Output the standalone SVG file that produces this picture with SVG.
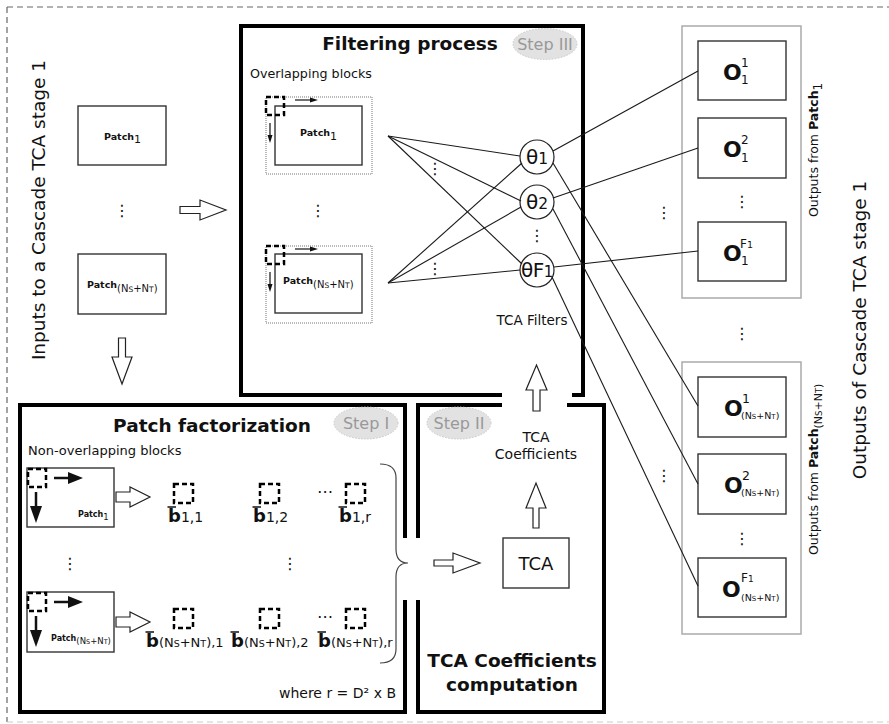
<svg xmlns="http://www.w3.org/2000/svg" width="889" height="724" viewBox="0 0 889 724">
<style>
text{font-family:"DejaVu Sans","Liberation Sans",sans-serif;fill:#111}
.b{font-weight:bold}
.box{fill:#fff;stroke:#333;stroke-width:1.4}
.frame{fill:none;stroke:#000;stroke-width:4}
.dotted{fill:none;stroke:#777;stroke-width:1;stroke-dasharray:1 1}
.dsq{fill:none;stroke:#000;stroke-width:2.5;stroke-dasharray:5 3}
.thin{stroke:#111;stroke-width:1.2;fill:none}
.head{fill:#111;stroke:none}
.hollow{fill:#fff;stroke:#222;stroke-width:1.2}
.grp{fill:none;stroke:#aaa;stroke-width:1.5}
.conn{stroke:#1a1a1a;stroke-width:1.1;fill:none}
.step{fill:#e2e2e2;stroke:#c8c8c8;stroke-width:1;stroke-dasharray:1.5 1.5}
.steptxt{fill:#999;font-size:16px}
.dots{font-size:16px;text-anchor:middle}
.circ{fill:#fff;stroke:#222;stroke-width:1.2}
</style>

<!-- outer dashed border -->
<g id="border">
<line x1="7" y1="7" x2="889" y2="7" stroke="#666" stroke-width="1.2" stroke-dasharray="6 4"/>
<line x1="7" y1="7" x2="7" y2="722" stroke="#666" stroke-width="1.2" stroke-dasharray="6 4"/>
<line x1="7" y1="722" x2="889" y2="722" stroke="#ccc" stroke-width="1.2" stroke-dasharray="6 4"/>
</g>

<!-- side labels -->
<text transform="translate(45,210) rotate(-90)" text-anchor="middle" font-size="18.5">Inputs to a Cascade TCA stage 1</text>
<text transform="translate(866,330) rotate(-90)" text-anchor="middle" font-size="18.5">Outputs of Cascade TCA stage 1</text>

<!-- inputs -->
<g id="input-patch1">
<rect x="78" y="106" width="88" height="59" class="box"/>
<text x="104" y="140" font-size="9.5" class="b">Patch<tspan font-weight="normal" font-size="11" dy="3">1</tspan></text>
</g>
<text x="122" y="216" class="dots">⋮</text>
<g id="input-patchN">
<rect x="78" y="254" width="88" height="60" class="box"/>
<text x="87" y="288" font-size="9.5" class="b">Patch<tspan font-weight="normal" font-size="10" dy="4">(N<tspan font-size="7.5">S</tspan>+N<tspan font-size="7.5">T</tspan>)</tspan></text>
</g>

<!-- Filtering process -->
<g id="filtering">
<path d="M502 395 H241 V26 H583 V395 H572" class="frame"/>
<text x="410" y="50" text-anchor="middle" font-size="18.5" class="b">Filtering process</text>
<ellipse cx="545" cy="44" rx="32" ry="15.5" class="step"/>
<text x="545" y="50" text-anchor="middle" class="steptxt">Step III</text>
<text x="250" y="78" font-size="12.7">Overlapping blocks</text>
</g>
<g id="filter-patch1">
<rect x="266" y="97" width="106" height="77" class="dotted"/>
<rect x="275" y="106" width="87" height="59" class="box"/>
<rect x="266" y="97" width="18" height="18" class="dsq"/>
<line x1="295" y1="100" x2="312" y2="100" class="thin"/><polygon points="318,100 310,97.5 310,102.5" class="head"/>
<line x1="270" y1="123" x2="270" y2="137" class="thin"/><polygon points="270,143 267.5,135 272.5,135" class="head"/>
<text x="300" y="136" font-size="9.5" class="b">Patch<tspan font-weight="normal" font-size="11" dy="4">1</tspan></text>
</g>
<text x="318" y="216" class="dots">⋮</text>
<g id="filter-patchN">
<rect x="266" y="246" width="106" height="77" class="dotted"/>
<rect x="275" y="254" width="87" height="59" class="box"/>
<rect x="266" y="246" width="18" height="18" class="dsq"/>
<line x1="295" y1="249" x2="312" y2="249" class="thin"/><polygon points="318,249 310,246.5 310,251.5" class="head"/>
<line x1="270" y1="272" x2="270" y2="286" class="thin"/><polygon points="270,292 267.5,284 272.5,284" class="head"/>
<text x="283" y="284" font-size="9.5" class="b">Patch<tspan font-weight="normal" font-size="10" dy="4">(N<tspan font-size="7.5">S</tspan>+N<tspan font-size="7.5">T</tspan>)</tspan></text>
</g>

<g id="theta1">
<circle cx="537" cy="157" r="17" class="circ"/>
<text x="537" y="164" text-anchor="middle" font-size="20">θ<tspan font-size="15.5">1</tspan></text>
</g>
<g id="theta2">
<circle cx="537" cy="202" r="17" class="circ"/>
<text x="537" y="209" text-anchor="middle" font-size="20">θ<tspan font-size="15.5">2</tspan></text>
</g>
<text x="537" y="241" class="dots">⋮</text>
<g id="thetaF1">
<circle cx="537" cy="270" r="17" class="circ"/>
<text x="537" y="277" text-anchor="middle" font-size="20" letter-spacing="-0.5">θF<tspan font-size="15">1</tspan></text>
</g>
<text x="532" y="325" text-anchor="middle" font-size="13.5">TCA Filters</text>
<text x="435" y="174" class="dots">⋮</text>
<text x="435" y="274" class="dots">⋮</text>

<!-- Patch factorization -->
<g id="factorization">
<path d="M405 538 V405 H20 V712 H405 V600" class="frame"/>
<text x="212" y="432" text-anchor="middle" font-size="18.5" class="b">Patch factorization</text>
<ellipse cx="366" cy="423" rx="32" ry="16" class="step"/>
<text x="366" y="429" text-anchor="middle" class="steptxt">Step I</text>
<text x="28" y="455" font-size="13">Non-overlapping blocks</text>
<text x="396" y="698" text-anchor="end" font-size="14">where r = D² x B</text>
<path d="M380 464 Q396 464 396 478 V549 Q396 563 408 563 Q396 563 396 577 V649 Q396 663 380 663" fill="none" stroke="#444" stroke-width="1.2"/>
</g>
<g id="fact-patch1">
<rect x="27" y="468" width="87" height="59" class="box"/>
<rect x="28" y="469" width="18" height="18" class="dsq"/>
<line x1="54" y1="478" x2="70" y2="478" stroke="#111" stroke-width="2.5"/><polygon points="83,478 68,472 68,484" class="head"/>
<line x1="36" y1="492" x2="36" y2="508" stroke="#111" stroke-width="2.5"/><polygon points="36,523 30,506 42,506" class="head"/>
<text x="78" y="517" font-size="8" class="b">Patch<tspan font-weight="normal" font-size="8.5" dy="3">1</tspan></text>
</g>
<text x="70" y="569" class="dots">⋮</text>
<g id="fact-patchN">
<rect x="27" y="592" width="87" height="60" class="box"/>
<rect x="28" y="593" width="18" height="18" class="dsq"/>
<line x1="54" y1="602" x2="70" y2="602" stroke="#111" stroke-width="2.5"/><polygon points="83,602 68,596 68,608" class="head"/>
<line x1="36" y1="616" x2="36" y2="632" stroke="#111" stroke-width="2.5"/><polygon points="36,647 30,630 42,630" class="head"/>
<text x="51" y="641" font-size="8" class="b">Patch<tspan font-weight="normal" font-size="8.5" dy="3">(N<tspan font-size="6.5">S</tspan>+N<tspan font-size="6.5">T</tspan>)</tspan></text>
</g>

<g id="blocks-row1">
<rect x="174" y="484" width="19" height="19" class="dsq"/>
<rect x="260" y="484" width="19" height="19" class="dsq"/>
<rect x="346" y="484" width="19" height="19" class="dsq"/>
<text x="325" y="497" class="dots">⋯</text>
<line x1="167.5" y1="507" x2="176" y2="507" stroke="#111" stroke-width="1.5"/>
<line x1="252.5" y1="507" x2="261" y2="507" stroke="#111" stroke-width="1.5"/>
<line x1="338.5" y1="507" x2="347" y2="507" stroke="#111" stroke-width="1.5"/>
<text x="168" y="522" font-size="18" class="b">b<tspan font-weight="normal" font-size="14">1,1</tspan></text>
<text x="253" y="522" font-size="18" class="b">b<tspan font-weight="normal" font-size="14">1,2</tspan></text>
<text x="339" y="522" font-size="18" class="b">b<tspan font-weight="normal" font-size="14">1,r</tspan></text>
</g>
<text x="290" y="569" class="dots">⋮</text>
<g id="blocks-rowN">
<rect x="174" y="609" width="19" height="19" class="dsq"/>
<rect x="260" y="609" width="19" height="19" class="dsq"/>
<rect x="346" y="609" width="19" height="19" class="dsq"/>
<text x="325" y="622" class="dots">⋯</text>
<line x1="145.5" y1="632" x2="154" y2="632" stroke="#111" stroke-width="1.5"/>
<line x1="230.5" y1="632" x2="239" y2="632" stroke="#111" stroke-width="1.5"/>
<line x1="317.5" y1="632" x2="326" y2="632" stroke="#111" stroke-width="1.5"/>
<text x="146" y="647" font-size="18" class="b">b<tspan font-weight="normal" font-size="13">(N<tspan font-size="9.5">S</tspan>+N<tspan font-size="9.5">T</tspan>),1</tspan></text>
<text x="231" y="647" font-size="18" class="b">b<tspan font-weight="normal" font-size="13">(N<tspan font-size="9.5">S</tspan>+N<tspan font-size="9.5">T</tspan>),2</tspan></text>
<text x="318" y="647" font-size="18" class="b">b<tspan font-weight="normal" font-size="13">(N<tspan font-size="9.5">S</tspan>+N<tspan font-size="9.5">T</tspan>),r</tspan></text>
</g>

<!-- TCA coefficients computation -->
<g id="tca-computation">
<path d="M418 538 V405 H502 M567 405 H604 V712 H418 V600" class="frame"/>
<ellipse cx="459" cy="423" rx="32" ry="16" class="step"/>
<text x="459" y="429" text-anchor="middle" class="steptxt">Step II</text>
<text x="512" y="667" text-anchor="middle" font-size="18.5" class="b">TCA Coefficients</text>
<text x="512" y="691" text-anchor="middle" font-size="18.5" class="b">computation</text>
<text x="536" y="442" text-anchor="middle" font-size="14">TCA</text>
<text x="536" y="459" text-anchor="middle" font-size="14">Coefficients</text>
</g>
<g id="tca">
<rect x="503" y="538" width="66" height="50" class="box"/>
<text x="536" y="570" text-anchor="middle" font-size="18">TCA</text>
</g>

<!-- outputs group 1 -->
<g id="outputs-patch1">
<rect x="682" y="26" width="119" height="272" class="grp"/>
<text transform="translate(818,217) rotate(-90)" font-size="12.5">Outputs from <tspan class="b">Patch</tspan><tspan font-size="12" dy="4">1</tspan></text>
</g>
<g id="o-1-1">
<rect x="698" y="41" width="88" height="59" class="box"/>
<text x="723" y="80" font-size="22" class="b">O</text>
<text x="741" y="67" font-size="12">1</text><text x="741" y="84" font-size="12">1</text>
</g>
<g id="o-1-2">
<rect x="698" y="118" width="88" height="60" class="box"/>
<text x="723" y="157" font-size="22" class="b">O</text>
<text x="741" y="144" font-size="12">2</text><text x="741" y="162" font-size="12">1</text>
</g>
<text x="742" y="207" class="dots">⋮</text>
<g id="o-1-F1">
<rect x="698" y="222" width="88" height="59" class="box"/>
<text x="723" y="261" font-size="22" class="b">O</text>
<text x="740" y="248" font-size="12">F<tspan font-size="9.5">1</tspan></text><text x="741" y="265" font-size="12">1</text>
</g>
<text x="742" y="339" class="dots">⋮</text>
<text x="664" y="218" class="dots">⋮</text>
<text x="664" y="481" class="dots">⋮</text>

<!-- outputs group 2 -->
<g id="outputs-patchN">
<rect x="682" y="362" width="119" height="272" class="grp"/>
<text transform="translate(818,555) rotate(-90)" font-size="12.5">Outputs from <tspan class="b">Patch</tspan><tspan font-size="11" dy="4">(N<tspan font-size="8.5">S</tspan>+N<tspan font-size="8.5">T</tspan>)</tspan></text>
</g>
<g id="o-N-1">
<rect x="698" y="377" width="88" height="60" class="box"/>
<text x="724" y="416" font-size="22" class="b">O</text>
<text x="742" y="403" font-size="12.5">1</text>
<text x="741" y="419" font-size="9.5">(N<tspan font-size="7">S</tspan>+N<tspan font-size="7">T</tspan>)</text>
</g>
<g id="o-N-2">
<rect x="698" y="454" width="88" height="60" class="box"/>
<text x="724" y="493" font-size="22" class="b">O</text>
<text x="742" y="480" font-size="12.5">2</text>
<text x="741" y="496" font-size="9.5">(N<tspan font-size="7">S</tspan>+N<tspan font-size="7">T</tspan>)</text>
</g>
<text x="742" y="544" class="dots">⋮</text>
<g id="o-N-F1">
<rect x="698" y="558" width="88" height="59" class="box"/>
<text x="722" y="597" font-size="22" class="b">O</text>
<text x="741" y="582" font-size="12">F<tspan font-size="9">1</tspan></text>
<text x="741" y="601" font-size="9.5">(N<tspan font-size="7">S</tspan>+N<tspan font-size="7">T</tspan>)</text>
</g>

<!-- connectors -->
<g id="connectors">
<line x1="388" y1="136" x2="520" y2="156" class="conn"/>
<line x1="388" y1="136" x2="521" y2="201" class="conn"/>
<line x1="388" y1="136" x2="522" y2="264" class="conn"/>
<line x1="388" y1="283" x2="522" y2="163" class="conn"/>
<line x1="388" y1="283" x2="521" y2="207" class="conn"/>
<line x1="388" y1="283" x2="520" y2="270" class="conn"/>
<line x1="553" y1="151" x2="698" y2="71" class="conn"/>
<line x1="553" y1="163" x2="698" y2="406" class="conn"/>
<line x1="553" y1="198" x2="698" y2="148" class="conn"/>
<line x1="553" y1="209" x2="698" y2="484" class="conn"/>
<line x1="554" y1="267" x2="698" y2="251" class="conn"/>
<line x1="552" y1="277" x2="698" y2="586" class="conn"/>
<path d="M180 206.5 H200 V200 L226 210 L200 220 V213.5 H180 Z" class="hollow"/>
<path d="M118.5 338 V357 H112 L122 384 L132 357 H125.5 V338 Z" class="hollow"/>
<path d="M116 492 H130 V487 L150 497 L130 507 V502 H116 Z" class="hollow"/>
<path d="M116 617 H130 V612 L150 622 L130 632 V627 H116 Z" class="hollow"/>
<path d="M434 560 H453 V553 L480 563 L453 573 V566 H434 Z" class="hollow"/>
<path d="M533 528 V508 H526 L536 483 L546 508 H539 V528 Z" class="hollow"/>
<path d="M533 411 V390 H526 L536.5 365 L547 390 H540 V411 Z" class="hollow"/>
</g>
</svg>
